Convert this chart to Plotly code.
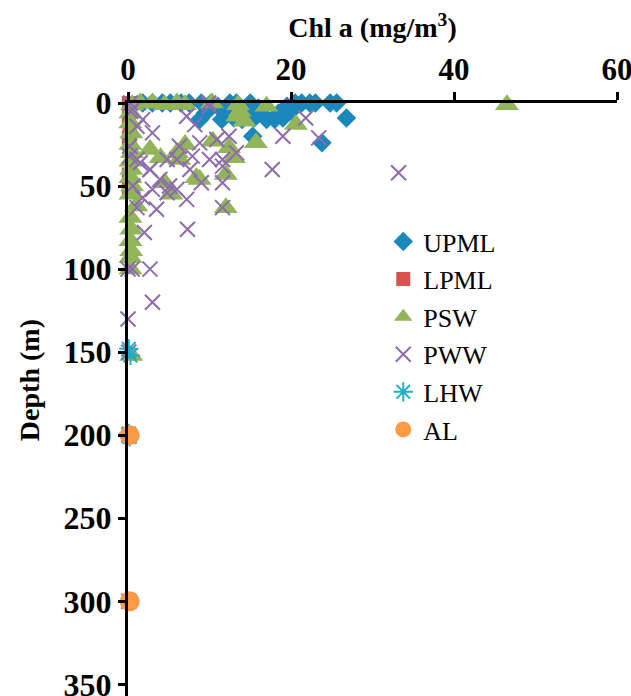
import plotly.graph_objects as go

# ---- data (Chl a in mg/m3, depth in m) ----
upml_chl = [1.8, 3.0, 4.2, 5.2, 6.5, 7.5, 9.0, 10.2, 12.5, 13.3, 15.0, 20.5, 21.3, 22.3, 23.0, 24.8, 25.6,
            11.0, 16.0, 19.5, 9.5, 12.0, 14.5, 16.5, 18.5, 20.0,
            8.8, 11.5, 13.0, 14.0, 15.5, 17.0, 18.0, 19.0, 26.8, 15.3, 23.8]
upml_depth = [0, 0, 0, 0, 0, 0, 0, 0, 0, 0, 0, 0, 0, 0, 0, 0, 0,
              2, 3, 2, 6, 5, 6, 7, 6, 5,
              10, 10, 9, 10, 9, 10, 10, 9, 9, 20, 24]

lpml_chl = [0.1, 0.2, 0.1, 0.2, 0.1, 0.2, 0.1, 0.2, 0.1]
lpml_depth = [0, 3, 8, 17, 21, 25, 43, 48, 52]

psw_chl = [0.5, 1.5, 3.0, 4.5, 6.0, 7.0, 10.3, 13.5, 17.0, 46.5,
           13.7, 13.4, 14.3, 20.6, 15.7, 10.4, 12.4,
           0.3, 0.3, 0.4, 0.3, 0.5, 0.3, 0.4, 0.3, 0.5, 0.3, 1.0,
           2.7, 4.0, 6.0, 6.3, 7.0, 8.4, 4.5, 5.3, 13.0, 12.0, 12.0, 8.8,
           0.3, 0.4, 0.3, 0.4, 0.3, 0.3, 0.4]
psw_depth = [1, 0, 0, 1, 0, 1, 0, 1, 2, 1,
             5, 8, 11, 13, 24, 23, 27,
             6, 12, 18, 25, 30, 35, 40, 45, 50, 55, 62,
             28, 33, 30, 34, 25, 45, 48, 55, 33, 43, 63, 46,
             69, 76, 83, 89, 93, 100, 152]

pww_chl = [0.3, 0.3, 9.9, 0.6, 1.1, 1.8, 3.0, 7.2, 8.2, 10.0, 8.8, 10.9, 12.4, 13.3, 11.6, 10.0,
           7.9, 6.3, 4.8, 2.7, 1.1, 0.2, 0.6, 3.0, 5.1, 17.7, 19.0, 21.8, 23.4,
           0.2, 1.5, 2.7, 3.9, 4.8, 1.8, 6.0, 7.2, 7.6, 6.0, 1.1, 3.5,
           11.6, 9.0, 11.6, 11.6, 2.0, 7.3, 0.0, 0.5, 2.7, 3.0, 0.0, 33.2,
           0.1, 0.1, 0.1]
pww_depth = [0, 5, 0, 4, 14, 10, 18, 8, 13, 2, 24, 22, 20, 30, 38, 34,
             32, 26, 34, 40, 34, 26, 50, 52, 50, 40, 20, 9, 21,
             32, 36, 40, 46, 54, 57, 52, 58, 40, 34, 63, 64,
             34, 48, 48, 63, 78, 76, 100, 100, 100, 120, 130, 42,
             150, 200, 300]

lhw_chl = [0.1, 0.3, 0.1, 0.2]
lhw_depth = [148, 152, 199, 201]

al_chl = [0.2, 0.2]
al_depth = [200, 300]

x_ticks = [0, 20, 40, 60]
y_ticks = [0, 50, 100, 150, 200, 250, 300, 350]

series = [
    ("UPML", upml_chl, upml_depth, dict(symbol="diamond", size=15, color="#1A87BD")),
    ("LPML", lpml_chl, lpml_depth, dict(symbol="square", size=14, color="#D65450")),
    ("PSW", psw_chl, psw_depth, dict(symbol="triangle-up", size=21, color="#92B55A")),
    ("PWW", pww_chl, pww_depth, dict(symbol="x-thin-open", size=15, color="#8D6BAE",
                                     line=dict(width=2, color="#8D6BAE"))),
    ("LHW", lhw_chl, lhw_depth, dict(symbol="asterisk-open", size=16, color="#22AFC6",
                                     line=dict(width=2, color="#22AFC6"))),
    ("AL", al_chl, al_depth, dict(symbol="circle", size=20, color="#FF9944")),
]

fig = go.Figure()
for name, xs, ys, mk in series:
    fig.add_trace(go.Scatter(x=xs, y=ys, mode="markers", name=name, marker=mk,
                             cliponaxis=False, legendgroup=name))

fig.update_layout(
    width=631, height=696,
    margin=dict(l=128, r=14, t=103, b=0),
    paper_bgcolor="white", plot_bgcolor="white",
    font=dict(family="Liberation Serif", color="black"),
    showlegend=True,
    legend=dict(x=0.522, y=0.806, xanchor="left", yanchor="top",
                font=dict(size=26, family="Liberation Serif"),
                bgcolor="rgba(0,0,0,0)", tracegroupgap=0.8),
    xaxis=dict(side="top", range=[0, 60], tickvals=x_ticks, showgrid=False, zeroline=False,
               showline=True, linecolor="black", linewidth=3, automargin=False,
               ticks="outside", ticklen=8, tickwidth=3, tickcolor="black",
               ticklabeloverflow="allow",
               tickfont=dict(size=31, family="Liberation Serif", weight="bold"),
               title=dict(text="Chl a (mg/m<sup>3</sup>)", standoff=6,
                          font=dict(size=28, family="Liberation Serif", weight="bold"))),
    yaxis=dict(range=[357, 0], tickvals=y_ticks, showgrid=False, zeroline=False,
               showline=True, linecolor="black", linewidth=3, automargin=False,
               ticks="outside", ticklen=7, tickwidth=3, tickcolor="black",
               ticklabeloverflow="allow",
               tickfont=dict(size=32, family="Liberation Serif", weight="bold")),
    annotations=[dict(text="Depth (m)", textangle=-90, xref="paper", yref="paper",
                      x=-0.2, y=0.533, xanchor="center", yanchor="middle", showarrow=False,
                      font=dict(size=28, family="Liberation Serif", weight="bold"))],
)

fig.write_html("out.html", config={"displayModeBar": False},
               post_script="document.body.style.margin='0';document.body.style.overflow='hidden';")
